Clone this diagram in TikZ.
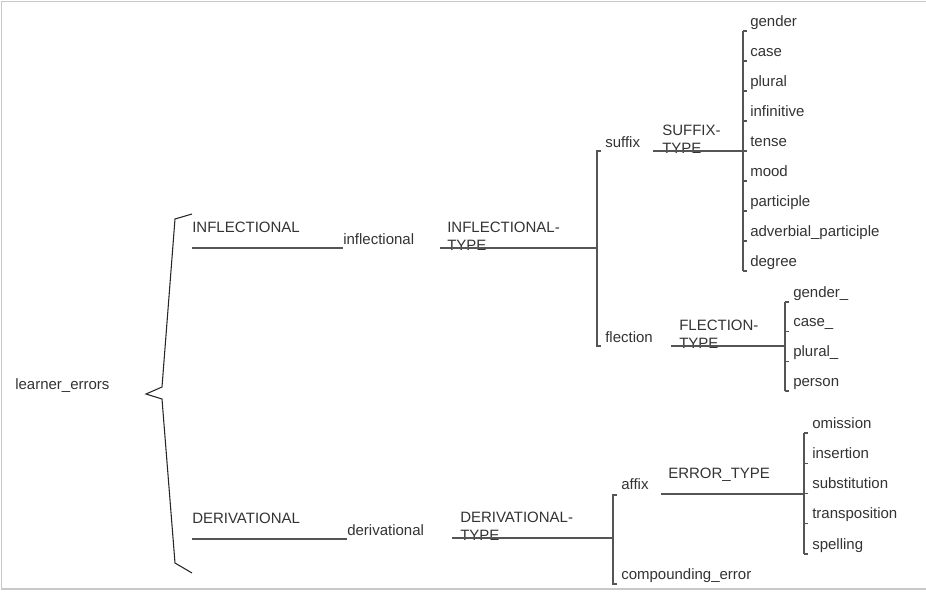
\documentclass[tikz,border=0pt]{standalone}
\usepackage{fontspec}
\setmainfont{Liberation Sans}
\definecolor{txt}{HTML}{333333}
\definecolor{lc}{HTML}{555555}
\definecolor{framec}{HTML}{C8C8C8}
\newcommand\lblfont{\fontsize{11.25}{13.5}\selectfont}
\begin{document}
\begin{tikzpicture}[x=0.75pt,y=-0.75pt,
  lbl/.style={anchor=base west,inner sep=0pt,text=txt,font=\lblfont},
  lbltwo/.style={anchor=north west,inner sep=0pt,text=txt,font=\lblfont,align=left},
  ln/.style={draw=lc,line width=1.1pt},
  bracestroke/.style={draw=black!85,line width=0.8pt,line join=miter},
  framestroke/.style={draw=framec,line width=1.2pt}]
\useasboundingbox (0,0) rectangle (926,594);
% frame
\draw[framestroke] (926,1.5) -- (1.5,1.5) -- (1.5,589) -- (926,589);

% nodes
\node[lbl] (root) at (15,389) {learner\_errors};
\node[lbl] (INFL) at (192,232) {INFLECTIONAL};
\node[lbl] (infl) at (343,244) {inflectional};
\node[lbltwo] (INFLT) at (447,222) {INFLECTIONAL-\\TYPE};
\node[lbl] (suffix) at (605,147) {suffix};
\node[lbltwo] (SUFT) at (662,125) {SUFFIX-\\TYPE};
\node[lbl] (flection) at (605,342) {flection};
\node[lbltwo] (FLT) at (679,320) {FLECTION-\\TYPE};
\node[lbl] (DERIV) at (192,523) {DERIVATIONAL};
\node[lbl] (deriv) at (347,535) {derivational};
\node[lbltwo] (DERT) at (460,512) {DERIVATIONAL-\\TYPE};
\node[lbl] (affix) at (621,489) {affix};
\node[lbl] (comp) at (621,579) {compounding\_error};
\node[lbl] (ERRT) at (668,478) {ERROR\_TYPE};

\foreach \t [count=\i from 0] in {gender,case,plural,infinitive,tense,mood,participle,adverbial\_participle,degree}
  \node[lbl] (s\i) at (750,26+30*\i) {\t};
\foreach \t [count=\i from 0] in {gender\_,case\_,plural\_,person}
  \node[lbl] (f\i) at (793,297+29.7*\i) {\t};
\foreach \t [count=\i from 0] in {omission,insertion,substitution,transposition,spelling}
  \node[lbl] (e\i) at (812,428+30.25*\i) {\t};

% brace from root
\coordinate (bT) at (192,214);
\coordinate (bM) at (146,394);
\coordinate (bB) at (192,573);
\draw[bracestroke] (bT) -- (175,219) -- (162,387) -- (bM) -- (162,399) -- (175,563) -- (bB);

% INFLECTIONAL branch
\coordinate (uI) at (192,248);
\draw[ln] (uI) -- (uI -| infl.west);
\coordinate (sI) at (440,248);
\coordinate (jI) at (597,248);
\draw[ln] (sI) -- (jI);
\coordinate (tSuf) at (597,151);
\coordinate (tFle) at (597,346);
\draw[ln] (tSuf) ++(4,0) -- (tSuf) -- (tFle) -- ++(4,0);

% SUFFIX-TYPE
\coordinate (sS) at (653,151);
\coordinate (jS) at (743,151);
\draw[ln] (sS) -- (jS);
\draw[ln] (743,31) -- (743,271);
\foreach \i in {0,...,8}
  \draw[ln] (743,31+30*\i) -- ++(4,0);

% FLECTION-TYPE
\coordinate (sF) at (671,346);
\coordinate (jF) at (785,346);
\draw[ln] (sF) -- (jF);
\draw[ln] (785,302) -- (785,391);
\foreach \i in {0,...,3}
  \draw[ln] (785,302+29.7*\i) -- ++(4,0);

% DERIVATIONAL branch
\coordinate (uD) at (192,539);
\draw[ln] (uD) -- (uD -| deriv.west);
\coordinate (sD) at (452,538);
\coordinate (jD) at (613,538);
\draw[ln] (sD) -- (jD);
\coordinate (tAff) at (613,495);
\coordinate (tCmp) at (613,584);
\draw[ln] (tAff) ++(4,0) -- (tAff) -- (tCmp) -- ++(4,0);

% ERROR_TYPE
\coordinate (sE) at (661,494);
\coordinate (jE) at (804,494);
\draw[ln] (sE) -- (jE);
\draw[ln] (804,433) -- (804,554);
\foreach \i in {0,...,4}
  \draw[ln] (804,433+30.25*\i) -- ++(4,0);
\end{tikzpicture}
\end{document}
